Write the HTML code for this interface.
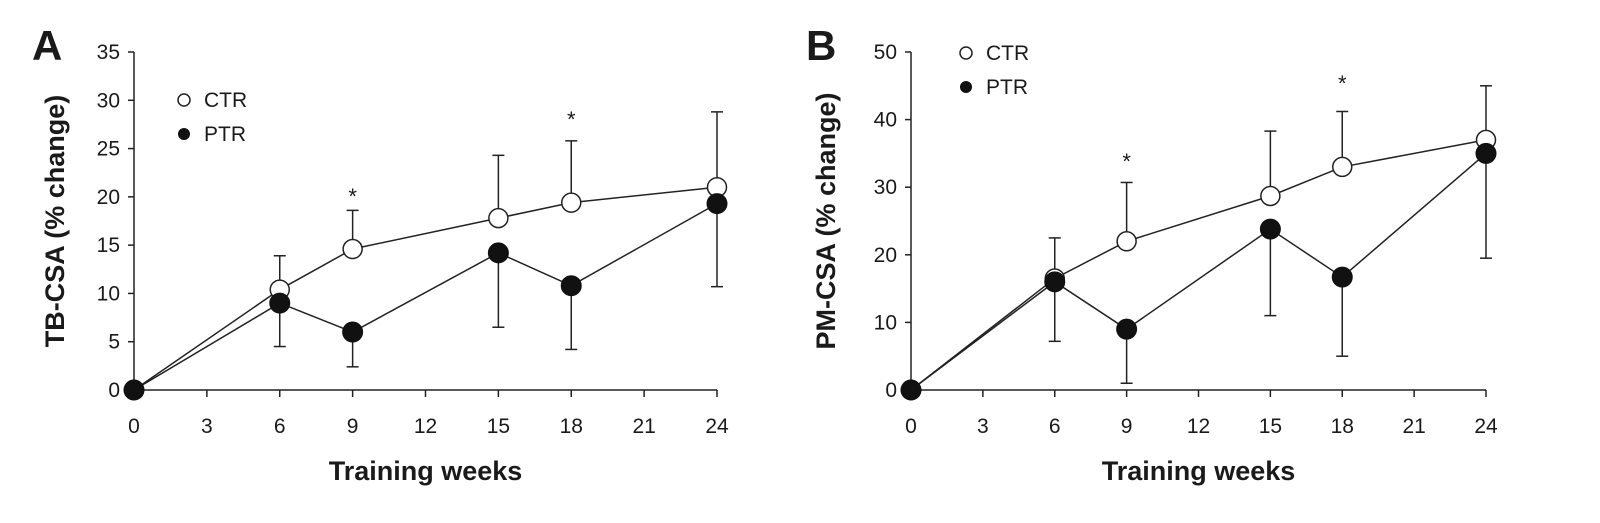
<!DOCTYPE html>
<html><head><meta charset="utf-8"><style>
body{margin:0;background:#fff;}
svg text{font-family:"Liberation Sans",sans-serif;fill:#1a1a1a;}
</style></head><body>
<svg id="chart" width="1600" height="518" viewBox="0 0 1600 518" xmlns="http://www.w3.org/2000/svg"></svg>
<script>
const weeks=[0,6,9,15,18,24];
const xTicks=[0,3,6,9,12,15,18,21,24];
const aTicks=[0,5,10,15,20,25,30,35];
const bTicks=[0,10,20,30,40,50];
const aCTR=[0,10.4,14.6,17.8,19.4,21];
const aCTRup=[0,13.9,18.6,24.3,25.8,28.8];
const aPTR=[0,9,6,14.2,10.8,19.3];
const aPTRdown=[0,4.5,2.4,6.5,4.2,10.7];
const aSig=[9,18];
const aSigY=[20.5,28.5];
const bCTR=[0,16.5,22,28.7,33,37];
const bCTRup=[0,22.5,30.7,38.3,41.2,45];
const bPTR=[0,16,9,23.8,16.7,35];
const bPTRdown=[0,7.2,1,11,5,19.5];
const bSig=[9,18];
const bSigY=[34.5,46];
const svg=document.getElementById('chart');
const NS='http://www.w3.org/2000/svg';
function mk(tag,attrs,parent){const e=document.createElementNS(NS,tag);for(const k in attrs)e.setAttribute(k,attrs[k]);(parent||svg).appendChild(e);return e;}
function panel(o){
  const g=mk('g',{});
  
  
  const X=v=>o.x0+(o.x1-o.x0)*v/24;
  const Y=v=>o.y0-(o.y0-o.y1)*v/o.ymax;
  let e=mk('line',{x1:X(0),y1:Y(0),x2:X(0),y2:Y(o.ymax),stroke:'#222','stroke-width':1.5},g);
  
  e=mk('line',{x1:X(0),y1:Y(0),x2:X(24),y2:Y(0),stroke:'#222','stroke-width':1.5},g);
  
  o.yt.forEach(v=>{mk('line',{x1:X(0)-6,y1:Y(v),x2:X(0),y2:Y(v),stroke:'#222','stroke-width':1.5},g);
    const t=mk('text',{x:X(0)-14,y:Y(v)+7,'text-anchor':'end','font-size':21},g);t.textContent=v;
    });
  xTicks.forEach(v=>{mk('line',{x1:X(v),y1:Y(0),x2:X(v),y2:Y(0)+7,stroke:'#222','stroke-width':1.5},g);
    const t=mk('text',{x:X(v),y:Y(0)+43,'text-anchor':'middle','font-size':21},g);t.textContent=v;
    });
  weeks.forEach((w,i)=>{ if(i===0)return;
    mk('line',{x1:X(w),y1:Y(o.ctr[i]),x2:X(w),y2:Y(o.up[i]),stroke:'#222','stroke-width':1.5},g);
    mk('line',{x1:X(w)-6,y1:Y(o.up[i]),x2:X(w)+6,y2:Y(o.up[i]),stroke:'#222','stroke-width':1.5},g);
    mk('line',{x1:X(w),y1:Y(o.ptr[i]),x2:X(w),y2:Y(o.down[i]),stroke:'#222','stroke-width':1.5},g);
    mk('line',{x1:X(w)-6,y1:Y(o.down[i]),x2:X(w)+6,y2:Y(o.down[i]),stroke:'#222','stroke-width':1.5},g);
  });
  const lp=a=>a.map((v,i)=>X(weeks[i])+','+Y(v)).join(' ');
  e=mk('polyline',{points:lp(o.ptr),fill:'none',stroke:'#222','stroke-width':1.5},g);
  
  e=mk('polyline',{points:lp(o.ctr),fill:'none',stroke:'#222','stroke-width':1.5},g);
  
  o.ctr.forEach((v,i)=>{const c=mk('circle',{cx:X(weeks[i]),cy:Y(v),r:9.5,fill:'#fff',stroke:'#222','stroke-width':1.5},g);
    });
  o.ptr.forEach((v,i)=>{const c=mk('circle',{cx:X(weeks[i]),cy:Y(v),r:10,fill:'#111',stroke:'#111','stroke-width':1},g);
    });
  o.sig.forEach((w,i)=>{const t=mk('text',{x:X(w),y:Y(o.sigY[i])+12,'text-anchor':'middle','font-size':22},g);t.textContent='*';
    });
  let c=mk('circle',{cx:o.lx,cy:o.ly,r:6,fill:'#fff',stroke:'#222','stroke-width':1.5},g);
  
  let t=mk('text',{x:o.lx+20,y:o.ly+7,'font-size':21},g);t.textContent='CTR';
  
  c=mk('circle',{cx:o.lx,cy:o.ly+34,r:6,fill:'#111'},g);
  
  t=mk('text',{x:o.lx+20,y:o.ly+41,'font-size':21},g);t.textContent='PTR';
  
  t=mk('text',{x:o.px,y:60,'font-size':42,'font-weight':'bold'},g);t.textContent=o.letter;
  
  t=mk('text',{x:0,y:0,'font-size':27,'font-weight':'bold','text-anchor':'middle',transform:`translate(${o.ytx},${(o.y0+o.y1)/2}) rotate(-90)`},g);t.textContent=o.ytitle;
  
  t=mk('text',{x:(o.x0+o.x1)/2,y:480,'font-size':27,'font-weight':'bold','text-anchor':'middle'},g);t.textContent='Training weeks';
  
}
panel({name:'panel-a',x0:134,x1:717,y0:390,y1:52,ymax:35,yt:aTicks,ctr:aCTR,up:aCTRup,ptr:aPTR,down:aPTRdown,sig:aSig,sigY:aSigY,lx:184,ly:100,px:32,letter:'A',ytx:64,ytitle:'TB-CSA (% change)'});
panel({name:'panel-b',x0:911,x1:1486,y0:390,y1:52,ymax:50,yt:bTicks,ctr:bCTR,up:bCTRup,ptr:bPTR,down:bPTRdown,sig:bSig,sigY:bSigY,lx:966,ly:53,px:806,letter:'B',ytx:835,ytitle:'PM-CSA (% change)'});
</script>
</body></html>
